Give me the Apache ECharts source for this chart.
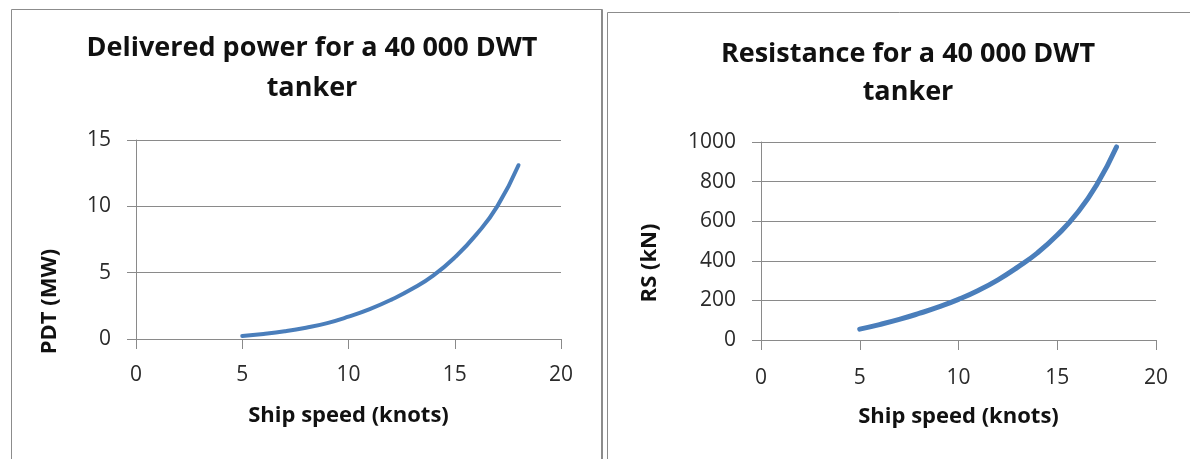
<!DOCTYPE html>
<html>
<head>
<meta charset="utf-8">
<script src="https://cdn.jsdelivr.net/npm/echarts@6/dist/echarts.min.js"></script>
<style>
html,body{margin:0;padding:0;background:#fff;}
#c{width:1190px;height:459px;}
</style>
</head>
<body>
<div id="c"></div>
<script>
// Ship speed (knots)
var speeds = [5, 6, 7, 8, 9, 10, 11, 12, 13, 14, 15, 16, 17, 18];
// Delivered power PDT (MW)
var pdtValues = [0.23, 0.38, 0.58, 0.85, 1.2, 1.68, 2.25, 2.95, 3.78, 4.8, 6.15, 7.85, 10.0, 13.1];
// Resistance RS (kN)
var rsValues = [55, 78, 104, 134, 167, 205, 250, 304, 368, 440, 530, 640, 784, 975];
var xTicks = [0, 5, 10, 15, 20];
var pdtTicks = [0, 5, 10, 15];
var rsTicks = [0, 200, 400, 600, 800, 1000];

var titleLeft = 'Delivered power for a 40 000 DWT\ntanker';
var titleRight = 'Resistance for a 40 000 DWT\ntanker';

function pairs(xs, ys) { return xs.map(function (x, i) { return [x, ys[i]]; }); }

var FONT = '"Open Sans", "Liberation Sans", sans-serif';
var gridColor = '#8a8a8a';
var lineColor = '#4a7ebb';

function xAxisCfg(gi, gap, margin) {
  return {
    type: 'value', gridIndex: gi, min: xTicks[0], max: xTicks[xTicks.length - 1], interval: 5,
    name: 'Ship speed (knots)', nameLocation: 'middle', nameGap: gap,
    nameTextStyle: { fontFamily: FONT, fontWeight: 'bold', fontSize: 22, color: '#111' },
    axisLine: { show: true, onZero: false, lineStyle: { color: gridColor, width: 1 } },
    axisTick: { show: true, length: 10, lineStyle: { color: gridColor } },
    axisLabel: { margin: margin, fontFamily: FONT, fontSize: 21, color: '#2a2a2a' },
    splitLine: { show: false }
  };
}
function yAxisCfg(gi, ticks, name, gap, step, shift) {
  return {
    type: 'value', gridIndex: gi, min: ticks[0], max: ticks[ticks.length - 1], interval: step,
    name: name, nameLocation: 'middle', nameGap: gap, nameRotate: 90,
    nameTextStyle: { fontFamily: FONT, fontWeight: 'bold', fontSize: 22, color: '#111',
      padding: [0, shift * 2, 0, 0] },
    axisLine: { show: true, lineStyle: { color: gridColor, width: 1 } },
    axisTick: { show: true, length: 9, lineStyle: { color: gridColor } },
    axisLabel: { margin: 25, fontFamily: FONT, fontSize: 21, color: '#2a2a2a',
      formatter: function (v) { return String(v); } },
    splitLine: { show: true, lineStyle: { color: gridColor, width: 1 } }
  };
}

var chart = echarts.init(document.getElementById('c'), null, { renderer: 'canvas' });
chart.setOption({
  backgroundColor: '#fff',
  animation: false,
  title: [
    { text: titleLeft, left: 307, top: 23, textAlign: 'center',
      textStyle: { fontFamily: FONT, fontWeight: 'bold', fontSize: 27, lineHeight: 40, color: '#111' } },
    { text: titleRight, left: 903, top: 30, textAlign: 'center',
      textStyle: { fontFamily: FONT, fontWeight: 'bold', fontSize: 27, lineHeight: 38, color: '#111' } }
  ],
  grid: [
    { left: 136, top: 140, width: 425, height: 199 },
    { left: 761, top: 142, width: 395, height: 198 }
  ],
  xAxis: [xAxisCfg(0, 66, 26), xAxisCfg(1, 66, 28)],
  yAxis: [
    yAxisCfg(0, pdtTicks, 'PDT (MW)', 75, 5, 62),
    yAxisCfg(1, rsTicks, 'RS (kN)', 100, 200, 22)
  ],
  series: [
    { type: 'line', xAxisIndex: 0, yAxisIndex: 0, data: pairs(speeds, pdtValues), smooth: true,
      showSymbol: false, lineStyle: { color: lineColor, width: 4, cap: 'round' } },
    { type: 'line', xAxisIndex: 1, yAxisIndex: 1, data: pairs(speeds, rsValues), smooth: true,
      showSymbol: false, lineStyle: { color: lineColor, width: 5, cap: 'round' } }
  ],
  graphic: [
    { type: 'rect', shape: { x: 11.5, y: 9.5, width: 591, height: 470 }, silent: true, z: -1,
      style: { fill: null, stroke: '#8c8c8c', lineWidth: 1 } },
    { type: 'line', shape: { x1: 601.5, y1: 9, x2: 601.5, y2: 459 }, silent: true, z: -1,
      style: { stroke: '#8c8c8c', lineWidth: 1 } },
    { type: 'rect', shape: { x: 607.5, y: 12.5, width: 600, height: 470 }, silent: true, z: -1,
      style: { fill: null, stroke: '#8c8c8c', lineWidth: 1 } }
  ]
});
</script>
</body>
</html>
